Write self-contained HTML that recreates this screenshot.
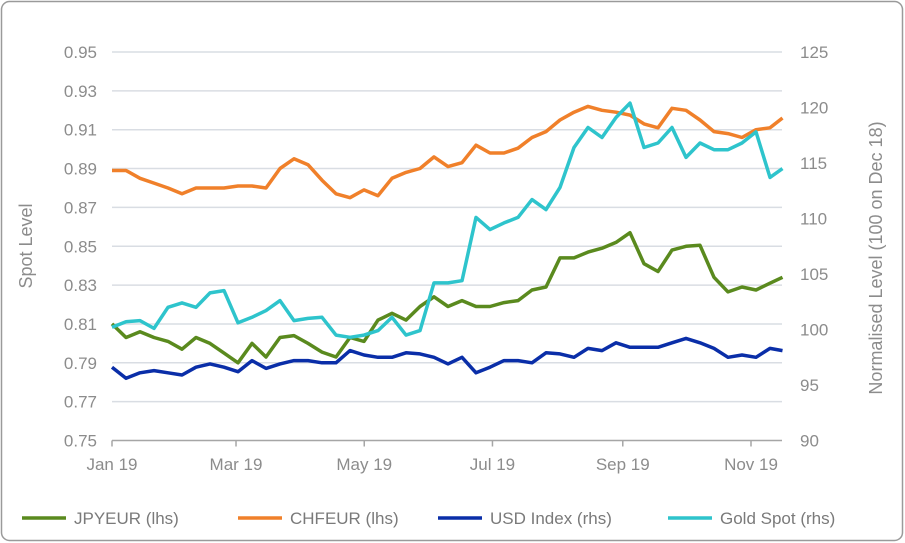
<!DOCTYPE html>
<html><head><meta charset="utf-8"><style>
body{margin:0;background:#fff;}
svg{display:block;font-family:"Liberation Sans",sans-serif;}
</style></head><body>
<svg id="chart" width="905" height="543" viewBox="0 0 905 543">
<rect x="1.5" y="1.5" width="901" height="539" rx="8" fill="#fff" stroke="#9a9a9a" stroke-width="1.5"/>
<g id="grid"></g><g id="axes"></g><g id="series"></g><g id="legend"></g>
</svg>
<script>
const leftTicks=[0.75,0.77,0.79,0.81,0.83,0.85,0.87,0.89,0.91,0.93,0.95];
const rightTicks=[90,95,100,105,110,115,120,125];
const monthLabels=["Jan 19","Mar 19","May 19","Jul 19","Sep 19","Nov 19"];
const monthDays=[0,59,120,181,243,304];
const jpyeur=[0.810,0.803,0.806,0.803,0.801,0.797,0.803,0.800,0.795,0.790,0.800,0.793,0.803,0.804,0.800,0.7955,0.793,0.803,0.801,0.812,0.8155,0.812,0.819,0.824,0.819,0.822,0.819,0.819,0.821,0.822,0.8275,0.829,0.844,0.844,0.847,0.849,0.852,0.857,0.841,0.837,0.848,0.850,0.8505,0.834,0.8265,0.829,0.8275,0.831,0.834];
const chfeur=[0.889,0.889,0.885,0.8825,0.880,0.877,0.880,0.880,0.880,0.881,0.881,0.880,0.890,0.895,0.892,0.884,0.877,0.875,0.879,0.876,0.885,0.888,0.890,0.896,0.891,0.893,0.902,0.898,0.898,0.9005,0.906,0.909,0.915,0.919,0.922,0.920,0.919,0.9175,0.913,0.911,0.921,0.920,0.915,0.909,0.908,0.906,0.910,0.911,0.916];
const usdIndex=[96.6,95.6,96.1,96.3,96.1,95.9,96.6,96.9,96.6,96.2,97.2,96.5,96.9,97.2,97.2,97.0,97.0,98.1,97.7,97.5,97.5,97.9,97.8,97.5,96.9,97.5,96.1,96.6,97.2,97.2,97.0,97.9,97.8,97.5,98.3,98.1,98.8,98.4,98.4,98.4,98.8,99.2,98.8,98.3,97.5,97.7,97.5,98.3,98.1];
const goldSpot=[100.2,100.7,100.8,100.1,102.0,102.4,102.0,103.3,103.5,100.6,101.1,101.7,102.6,100.8,101.0,101.1,99.5,99.3,99.5,99.9,101.1,99.5,99.9,104.2,104.2,104.4,110.1,109.0,109.6,110.1,111.7,110.8,112.8,116.4,118.2,117.3,119.1,120.4,116.4,116.8,118.2,115.5,116.8,116.2,116.2,116.8,117.8,113.7,114.5];

const X0=112,X1=751,PX_DAY=(X1-X0)/304;
const Y0=440.5,Y1=52;
const x=d=>X0+d*PX_DAY;
const yL=v=>Y0-(v-0.75)/(0.20)*(Y0-Y1);
const yR=v=>Y0-(v-90)/35*(Y0-Y1);
const dayOf=i=>i===48?319:i*14/PX_DAY;
const NS="http://www.w3.org/2000/svg";
function mk(tag,attrs,parent,text){const e=document.createElementNS(NS,tag);for(const k in attrs)e.setAttribute(k,attrs[k]);if(text!==undefined)e.textContent=text;parent.appendChild(e);return e;}
const grid=document.getElementById('grid'),axes=document.getElementById('axes'),series=document.getElementById('series'),legend=document.getElementById('legend');
const gray="#8c8c8c";
leftTicks.forEach(v=>{
  if(v>0.75){const g=mk('line',{x1:X0,x2:782,y1:yL(v),y2:yL(v),stroke:"#d9dde3","stroke-width":1.5},grid);
  
  }
  const t=mk('text',{x:97,y:yL(v)+6,"text-anchor":"end","font-size":17,fill:gray},axes,v.toFixed(2));
  
  
});
rightTicks.forEach(v=>{
  const t=mk('text',{x:800,y:yR(v)+6,"font-size":17,fill:gray},axes,String(v));
  
  
});
const ax=mk('line',{x1:X0,x2:782,y1:Y0,y2:Y0,stroke:"#a6a6a6","stroke-width":1.5},axes);


monthLabels.forEach((m,i)=>{
  const tk=mk('line',{x1:x(monthDays[i]),x2:x(monthDays[i]),y1:Y0,y2:Y0+6,stroke:"#a6a6a6","stroke-width":1.5},axes);
  
  
  const t=mk('text',{x:x(monthDays[i]),y:470,"text-anchor":"middle","font-size":17,fill:gray},axes,m);
  
  
});
const lt=mk('text',{transform:"translate(32,246) rotate(-90)","text-anchor":"middle","font-size":18,fill:gray},axes,"Spot Level");


const rt=mk('text',{transform:"translate(882,258) rotate(-90)","text-anchor":"middle","font-size":18,fill:gray},axes,"Normalised Level (100 on Dec 18)");


function line(data,yf,color,name){
  const d=data.map((v,i)=>(i?'L':'M')+x(dayOf(i)).toFixed(1)+' '+yf(v).toFixed(1)).join(' ');
  const p=mk('path',{d:d,fill:"none",stroke:color,"stroke-width":3.5,"stroke-linejoin":"round"},series);
  
  
}
line(chfeur,yL,"#f0802a","chfeur-line");
line(usdIndex,yR,"#0a2ea8","usd-index-line");
line(jpyeur,yL,"#5a8a1e","jpyeur-line");
line(goldSpot,yR,"#2ec4cc","gold-spot-line");
const leg=[["JPYEUR (lhs)","#5a8a1e",22],["CHFEUR (lhs)","#f0802a",238],["USD Index (rhs)","#0a2ea8",438],["Gold Spot (rhs)","#2ec4cc",668]];
leg.forEach(l=>{
  const g=mk('g',{},legend);
  
  
  mk('line',{x1:l[2],x2:l[2]+44,y1:518,y2:518,stroke:l[1],"stroke-width":3.5},g);
  mk('text',{x:l[2]+52,y:524,"font-size":17,fill:"#7a7a7a"},g,l[0]);
});
</script>
</body></html>
